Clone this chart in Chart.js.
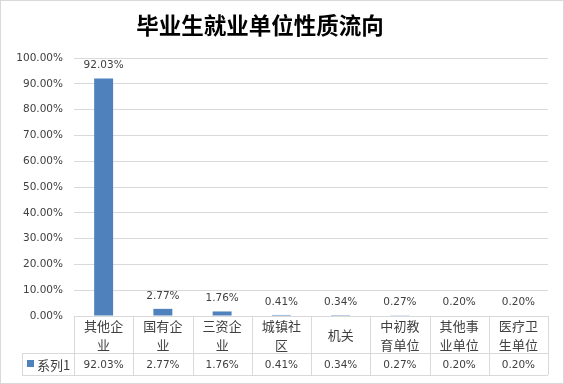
<!DOCTYPE html>
<html><head><meta charset="utf-8">
<script src="https://cdn.jsdelivr.net/npm/chart.js@4/dist/chart.umd.min.js"></script>
<style>
html,body{margin:0;padding:0;background:#fff;}
#wrap{position:relative;width:562px;height:382px;border:1px solid #D9D9D9;}
canvas{display:block;}
</style></head>
<body>
<div id="wrap"><canvas id="c" width="562" height="382"></canvas></div>
<script>
const title = "毕业生就业单位性质流向";
const categories = ["其他企业","国有企业","三资企业","城镇社区","机关","中初教育单位","其他事业单位","医疗卫生单位"];
const seriesName = "系列1";
const values = [92.03, 2.77, 1.76, 0.41, 0.34, 0.27, 0.20, 0.20];
const yTicks = [0,10,20,30,40,50,60,70,80,90,100];

const BLUE = "#4F81BD", GRID = "#D9D9D9", TXT = "#404040";
const CJK = "'Noto Sans CJK SC','Noto Sans CJK JP',sans-serif";
const NUM = "'DejaVu Sans',Verdana,sans-serif";

function splitLabel(s){ const out=[]; for(let i=0;i<s.length;i+=3) out.push(s.slice(i,i+3)); return out; }

const overlay = {
  id:'overlay',
  afterDraw(chart){
    const ctx = chart.ctx, x = chart.scales.x, ca = chart.chartArea;
    const n = categories.length;
    const step = (ca.right - ca.left)/n;
    const row1 = ca.bottom, row2 = ca.bottom + 37, row3 = ca.bottom + 59;
    const legL = 21;
    ctx.save();
    // title
    ctx.fillStyle = "#000";
    ctx.font = "bold 22.5px " + CJK;
    ctx.textAlign = "center"; ctx.textBaseline = "middle";
    ctx.fillText(title, 259, 24);
    // data labels
    const meta = chart.getDatasetMeta(0);
    ctx.font = "10.5px " + NUM; ctx.fillStyle = TXT;
    meta.data.forEach((b,i)=>{ ctx.fillText(values[i].toFixed(2)+"%", b.x, b.y - 13); });
    // table lines
    ctx.strokeStyle = GRID; ctx.lineWidth = 1;
    ctx.beginPath();
    ctx.moveTo(ca.left, row1+0.5); ctx.lineTo(ca.right, row1+0.5);
    ctx.moveTo(legL, row2+0.5); ctx.lineTo(ca.right, row2+0.5);
    ctx.moveTo(legL, row3+0.5); ctx.lineTo(ca.right, row3+0.5);
    ctx.moveTo(legL+0.5, row2); ctx.lineTo(legL+0.5, row3);
    for(let i=0;i<=n;i++){
      const xx = Math.round(ca.left + i*step)+0.5;
      ctx.moveTo(xx,row1); ctx.lineTo(xx,row3);
    }
    ctx.stroke();
    // category labels
    ctx.fillStyle = TXT; ctx.font = "13px " + CJK;
    categories.forEach((c,i)=>{
      const cx = x.getPixelForValue(i);
      const lines = splitLabel(c);
      const lh = 19;
      const y0 = (row1+row2)/2 - (lines.length-1)*lh/2 + 1;
      lines.forEach((l,k)=>ctx.fillText(l, cx, y0 + k*lh));
    });
    // values row
    ctx.font = "10.5px " + NUM;
    values.forEach((v,i)=>{ ctx.fillText(v.toFixed(2)+"%", x.getPixelForValue(i), (row2+row3)/2 + 1); });
    // legend cell
    ctx.fillStyle = BLUE; ctx.fillRect(26, row2+7, 7, 7);
    ctx.fillStyle = TXT; ctx.font = "13px " + CJK; ctx.textAlign = "left";
    ctx.fillText(seriesName, 36, (row2+row3)/2 + 1);
    ctx.restore();
  }
};

new Chart(document.getElementById('c'), {
  type:'bar',
  data:{ labels:categories, datasets:[{ label:seriesName, data:values, backgroundColor:BLUE,
    barPercentage:0.32, categoryPercentage:1 }]},
  options:{
    responsive:false, animation:false,
    layout:{ padding:{ left:0, right:15, top:57, bottom:67 } },
    plugins:{ legend:{display:false}, title:{display:false}, tooltip:{enabled:false} },
    scales:{
      x:{ display:false },
      y:{ min:0, max:100, afterFit(s){ s.width = 73; },
          afterBuildTicks(s){ s.ticks = yTicks.map(v=>({value:v})); },
          grid:{ color:GRID, drawTicks:false },
          border:{ display:false },
          ticks:{ padding:11, color:TXT, font:{ family:NUM, size:10.5 },
                  callback:v=>v.toFixed(2)+"%" } }
    }
  },
  plugins:[overlay]
});
</script>
</body></html>
